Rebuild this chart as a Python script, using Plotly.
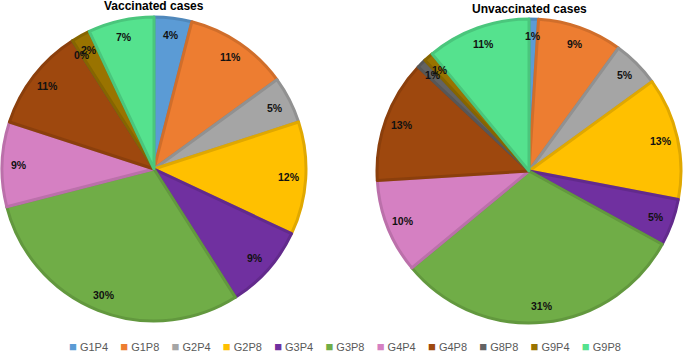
import math
import plotly.graph_objects as go

# ---- data ----
categories = ["G1P4", "G1P8", "G2P4", "G2P8", "G3P4", "G3P8",
              "G4P4", "G4P8", "G8P8", "G9P4", "G9P8"]
vaccinated = [4, 11, 5, 12, 9, 30, 9, 11, 0, 2, 7]
unvaccinated = [1, 9, 5, 13, 5, 31, 10, 13, 1, 1, 11]
titles = ["Vaccinated cases", "Unvaccinated cases"]

# ---- style ----
colors = ["#5B9BD5", "#ED7D31", "#A5A5A5", "#FFC000", "#7030A0", "#70AD47",
          "#D580C2", "#9E480E", "#636363", "#997300", "#55E28E"]


def darker(hexc, f=0.88):
    h = hexc.lstrip("#")
    r, g, b = (int(h[i:i + 2], 16) for i in (0, 2, 4))
    return "#%02X%02X%02X" % (int(r * f), int(g * f), int(b * f))


border = [darker(c) for c in colors]

W, H = 685, 356
FONT = "Liberation Sans, Arial, sans-serif"

# pie placement (pixel geometry of each pie: centre x, centre y, radius)
pies = [(154, 169, 152), (529, 171, 152)]

fig = go.Figure()
annotations = []

for idx, (vals, title) in enumerate(zip([vaccinated, unvaccinated], titles)):
    cx, cy, r = pies[idx]
    dom_x = [(cx - r) / W, (cx + r) / W]
    dom_y = [1 - (cy + r) / H, 1 - (cy - r) / H]
    fig.add_trace(go.Pie(
        labels=categories,
        values=vals,
        sort=False,
        direction="clockwise",
        rotation=0,
        marker=dict(colors=colors, line=dict(color=border, width=3)),
        textinfo="none",
        hoverinfo="label+percent",
        showlegend=False,
        domain=dict(x=dom_x, y=dom_y),
    ))
    # percentage labels placed along each slice bisector
    total = sum(vals)
    cum = 0
    for v in vals:
        mid = 2 * math.pi * (cum + v / 2) / total
        cum += v
        px = cx + 0.89 * r * math.sin(mid)
        py = cy - 0.89 * r * math.cos(mid)
        annotations.append(dict(
            x=px / W, y=1 - py / H, xref="paper", yref="paper",
            text=f"<b>{round(100 * v / total)}%</b>", showarrow=False,
            xanchor="center", yanchor="middle",
            font=dict(family=FONT, size=10.5, color="#111111"),
        ))
    # chart title
    annotations.append(dict(
        x=cx / W, y=1 - (6 if idx == 0 else 9) / H, xref="paper", yref="paper",
        text=f"<b>{title}</b>", showarrow=False,
        xanchor="center", yanchor="middle",
        font=dict(family=FONT, size=12, color="#000000"),
    ))

# legend row
sep = "\u00a0" * 4
legend_text = sep.join(
    f"<span style='color:{c};font-size:13px'>\u25A0</span>\u00a0{name}"
    for name, c in zip(categories, colors)
)
annotations.append(dict(
    x=0.503, y=1 - 346 / H, xref="paper", yref="paper",
    text=legend_text, showarrow=False, xanchor="center", yanchor="middle",
    font=dict(family=FONT, size=11, color="#595959"),
))

fig.update_layout(
    width=W, height=H,
    margin=dict(l=0, r=0, t=0, b=0),
    paper_bgcolor="white", plot_bgcolor="white",
    annotations=annotations,
    showlegend=False,
)

fig.write_html(
    "out.html",
    config={"displayModeBar": False},
    post_script="document.body.style.margin='0px';document.body.style.overflow='hidden';",
)
